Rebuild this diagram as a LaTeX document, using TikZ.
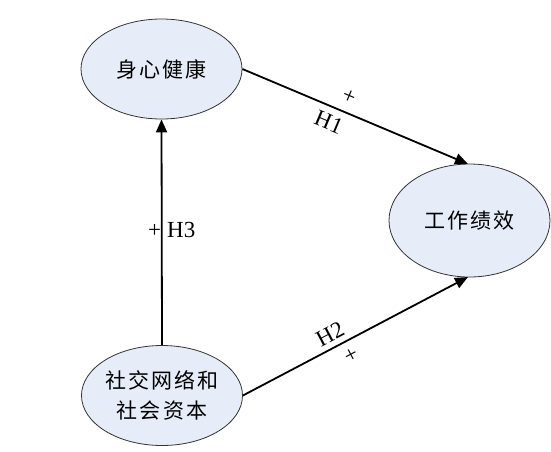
\documentclass[tikz,border=0pt]{standalone}
\usepackage{fontspec}
\setmainfont{Liberation Serif}
\newfontfamily\cjk[LetterSpace=10]{Noto Sans CJK SC}
\usetikzlibrary{shapes.geometric,arrows.meta}
\definecolor{ellfill}{HTML}{E7EDF8}
\definecolor{ellline}{HTML}{333333}
\tikzset{
  construct/.style={ellipse, draw=ellline, line width=0.8pt, fill=ellfill, inner sep=0pt,
    minimum width=161pt, minimum height=100pt, align=center,
    font=\cjk\fontsize{21}{30}\selectfont},
  path/.style={line width=1.8pt, -{Triangle[length=13pt,width=11pt]}},
  lab/.style={font=\fontsize{23}{25}\selectfont, inner sep=0pt}
}
\begin{document}
\begin{tikzpicture}[x=1pt,y=-1pt]
\useasboundingbox (0,0) rectangle (551,451);
\node[construct] (health) at (161.5,69) {身心健康};
\node[construct, minimum height=113pt] (perf) at (469.5,220.5) {工作绩效};
\node[construct] (social) at (162,395.5) {社交网络和\\社会资本};
\coordinate (ptop) at (468,164);
\coordinate (pbot) at (468,277);
\draw[path] (health.east) -- (ptop)
  node[lab, pos=0.445, above=8pt, sloped] (plus1) {+}
  node[lab, pos=0.41, below=7pt, sloped] (h1) {H1};
\draw[path] (social.east) -- (pbot)
  node[lab, pos=0.415, above=5pt, sloped] (h2) {H2}
  node[lab, pos=0.45, below=8pt, sloped] (plus2) {+};
\draw[path] (social.north) -- (health.south);
\node[lab, anchor=west] (h3) at (148,230) {+\hspace{6pt}H3};
\end{tikzpicture}
\end{document}
